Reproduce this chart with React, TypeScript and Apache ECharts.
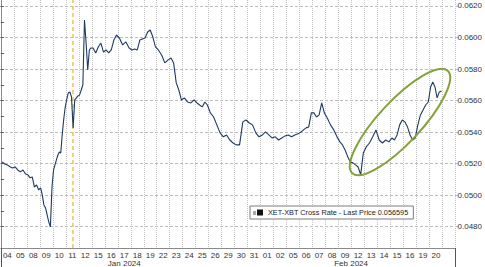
import React, { useEffect, useRef } from 'react';
import * as echarts from 'echarts';

// Trading days shown on the x axis (MM-DD, 2024)
const tradingDays = [
  '01-04', '01-05', '01-08', '01-09', '01-10', '01-11', '01-12', '01-15', '01-16', '01-17',
  '01-18', '01-19', '01-22', '01-23', '01-24', '01-25', '01-26', '01-29', '01-30', '01-31',
  '02-01', '02-02', '02-05', '02-06', '02-07', '02-08', '02-09', '02-12', '02-13', '02-14',
  '02-15', '02-16', '02-19', '02-20',
];
const axisDays = [...tradingDays, '02-21'];

// Intraday samples of the XET-XBT cross rate, one array per trading day
const jan04 = [0.05211, 0.05198, 0.05192, 0.0518, 0.05173];
const jan05 = [0.05179, 0.0516, 0.05148, 0.0516, 0.05135];
const jan08 = [0.05129, 0.0511, 0.05116, 0.05052, 0.05065, 0.05033];
const jan09 = [0.05046, 0.05002, 0.04938, 0.04919, 0.04875, 0.04831, 0.04799, 0.05052];
const jan10 = [0.0516, 0.05192, 0.05224, 0.05255, 0.05274, 0.05268, 0.05382, 0.05477, 0.05553];
const jan11 = [0.05604, 0.05648, 0.05655, 0.05623, 0.05427, 0.05604, 0.05617, 0.0563];
const jan12 = [0.05636, 0.05667, 0.05699, 0.06111, 0.05965, 0.05794, 0.05921, 0.05934];
const jan15 = [0.05934, 0.05902, 0.0594, 0.05965, 0.05908];
const jan16 = [0.05921, 0.05902, 0.05921, 0.05984, 0.06016];
const jan17 = [0.05997, 0.05953, 0.05972, 0.05934];
const jan18 = [0.05921, 0.05927, 0.05921, 0.05984, 0.05991];
const jan19 = [0.05997, 0.06035, 0.06048, 0.06003, 0.0594];
const jan22 = [0.05921, 0.05889, 0.05839, 0.05858];
const jan23 = [0.0587, 0.05839, 0.05712, 0.05667, 0.05604];
const jan24 = [0.05617, 0.05591, 0.05585, 0.05604];
const jan25 = [0.05585, 0.05572, 0.0556, 0.05591, 0.05572];
const jan26 = [0.05522, 0.05496, 0.05446, 0.05395];
const jan29 = [0.0537, 0.05382, 0.0535, 0.05331];
const jan30 = [0.05319, 0.05319, 0.05465, 0.05477];
const jan31 = [0.05458, 0.05446, 0.05395, 0.0537];
const feb01 = [0.05382, 0.05401, 0.05382, 0.05363];
const feb02 = [0.0537, 0.0535, 0.05363, 0.05376];
const feb05 = [0.05382, 0.0537, 0.05382, 0.05389];
const feb06 = [0.05401, 0.05414, 0.05427, 0.05433, 0.05522];
const feb07 = [0.05522, 0.05496, 0.05509, 0.05585, 0.05522];
const feb08 = [0.0549, 0.05446, 0.05414, 0.0537];
const feb09 = [0.05338, 0.05319, 0.05287, 0.05243, 0.05211];
const feb12 = [0.05205, 0.05192, 0.05179, 0.05129, 0.05268];
const feb13 = [0.05306, 0.05331, 0.0537, 0.05414];
const feb14 = [0.0535, 0.05331, 0.0535, 0.05338];
const feb15 = [0.05363, 0.0535, 0.05382, 0.05446, 0.05477];
const feb16 = [0.05465, 0.05433, 0.05382, 0.0535, 0.05363];
const feb19 = [0.05446, 0.05509, 0.05541, 0.05572, 0.05591];
const feb20 = [0.05686, 0.05718, 0.05686, 0.05617, 0.05655, 0.0566];

const intraday = [
  jan04, jan05, jan08, jan09, jan10, jan11, jan12, jan15, jan16, jan17,
  jan18, jan19, jan22, jan23, jan24, jan25, jan26, jan29, jan30, jan31,
  feb01, feb02, feb05, feb06, feb07, feb08, feb09, feb12, feb13, feb14,
  feb15, feb16, feb19, feb20,
];

const yLabelValues = [0.048, 0.05, 0.052, 0.054, 0.056, 0.058, 0.06, 0.062];
const yMinorValues = [0.049, 0.051, 0.053, 0.055, 0.057, 0.059, 0.061];
const yStep = 0.002;
const yMin = 0.04665;
const yMax = 0.06238;
const lastPrice = 0.056595;
const eventDay = '01-11';
const seriesName = 'XET-XBT Cross Rate - Last Price 0.056595';
const monthLabels = ['Jan 2024', 'Feb 2024'];

const FONT = 'Liberation Sans, Arial, sans-serif';
const H = 267;
const GRID_BOTTOM = 19;

export default function App() {
  const ref = useRef<HTMLDivElement>(null);

  useEffect(() => {
    document.body.style.margin = '0';
    if (!ref.current) return;
    const chart = echarts.init(ref.current, undefined, { renderer: 'svg' });

    const lineData: [number, number][] = [];
    intraday.forEach((vals, d) => {
      vals.forEach((v, k) => {
        lineData.push([d + (k + 0.5) / vals.length, v]);
      });
    });

    const eventIndex = axisDays.indexOf(eventDay);
    const firstFeb = axisDays.findIndex((d) => d.startsWith('02'));
    const janMid = Math.floor((firstFeb - 1) / 2);
    const febMid = Math.floor((firstFeb + tradingDays.length - 1) / 2);

    // helper grid for crisp horizontal gridlines: same scale, extended down to a multiple of the step
    const gridMin = Math.floor(yMin / yStep) * yStep;
    const plotH = H - GRID_BOTTOM;
    const helperH = (plotH * (yMax - gridMin)) / (yMax - yMin);
    const helperBottom = H - helperH;

    chart.setOption({
      animation: false,
      grid: [
        { left: -3.6, right: 26.9, top: 0, bottom: GRID_BOTTOM, containLabel: false },
        { left: -3.6, right: 26.9, top: 0, bottom: helperBottom, containLabel: false },
      ],
      legend: {
        left: 250,
        top: 206,
        selectedMode: false,
        data: [{ name: seriesName, icon: 'rect', itemStyle: { color: '#111' } }],
        itemWidth: 6,
        itemHeight: 6,
        backgroundColor: '#fff',
        borderColor: '#7d7d7d',
        borderWidth: 1,
        padding: [3, 5, 3, 7],
        textStyle: { fontSize: 7.3, color: '#222', fontFamily: FONT },
      },
      xAxis: [
        {
          type: 'category',
          gridIndex: 0,
          data: axisDays,
          position: 'bottom',
          boundaryGap: true,
          axisLine: { show: true, lineStyle: { color: '#8a8a8a', width: 1 } },
          axisTick: { show: false },
          axisLabel: {
            interval: 0,
            fontSize: 8,
            color: '#333',
            margin: 3,
            fontFamily: FONT,
            formatter: (v: string) => (tradingDays.includes(v) ? v.slice(3) : ''),
          },
          splitLine: { show: true, interval: 0, lineStyle: { type: 'dotted', color: '#c4c4c4', width: 1 } },
        },
        {
          type: 'value',
          gridIndex: 0,
          position: 'top',
          min: 0,
          max: axisDays.length,
          show: false,
        },
        {
          type: 'category',
          gridIndex: 0,
          data: axisDays,
          position: 'bottom',
          boundaryGap: true,
          axisLine: { show: false },
          axisTick: {
            show: true,
            interval: (i: number) => i === firstFeb,
            length: 19,
            lineStyle: { color: '#555', width: 1 },
          },
          axisLabel: {
            interval: (i: number) => i === janMid || i === febMid,
            margin: 11,
            fontSize: 8,
            color: '#333',
            fontFamily: FONT,
            formatter: (_v: string, i: number) =>
              i === janMid ? monthLabels[0] : i === febMid ? '{f|' + monthLabels[1] + '}' : '',
            rich: { f: { padding: [0, 0, 0, 12], fontSize: 8, color: '#333', fontFamily: FONT } },
          },
          splitLine: { show: false },
        },
        {
          type: 'value',
          gridIndex: 1,
          min: 0,
          max: axisDays.length,
          show: false,
        },
      ],
      yAxis: [
        {
          type: 'value',
          gridIndex: 0,
          position: 'right',
          min: yMin,
          max: yMax,
          axisLine: { show: true, lineStyle: { color: '#8a8a8a', width: 1 } },
          axisTick: {
            show: true,
            customValues: [...yLabelValues, ...yMinorValues],
            length: 3,
            lineStyle: { color: '#555' },
          },
          axisLabel: {
            customValues: yLabelValues,
            formatter: (v: number) => v.toFixed(4),
            fontSize: 8,
            color: '#333',
            margin: 2,
            fontFamily: FONT,
          },
          splitLine: { show: false },
        },
        {
          type: 'value',
          gridIndex: 1,
          position: 'right',
          min: gridMin,
          max: yMax,
          interval: yStep,
          axisLine: { show: false },
          axisTick: { show: false },
          axisLabel: { show: false },
          splitLine: {
            show: true,
            showMinLine: false,
            showMaxLine: false,
            lineStyle: { type: [3, 2], color: '#bdbdbd', width: 1 },
          },
        },
      ],
      series: [
        {
          name: seriesName,
          type: 'line',
          xAxisIndex: 1,
          yAxisIndex: 0,
          data: lineData,
          showSymbol: false,
          symbol: 'none',
          z: 3,
          lineStyle: { color: '#1e3a64', width: 1.1 },
          itemStyle: { color: '#111' },
          markLine: {
            silent: true,
            symbol: ['none', 'none'],
            z: 2,
            animation: false,
            data: [
              {
                xAxis: eventIndex + 0.5,
                lineStyle: { type: [4, 3], color: '#f2c654', width: 1.6 },
                label: { show: false },
              },
              {
                yAxis: lastPrice,
                lineStyle: { opacity: 0, width: 0 },
                label: {
                  show: true,
                  position: 'end',
                  distance: 2,
                  formatter: String(lastPrice),
                  backgroundColor: '#111',
                  color: '#fff',
                  padding: [1, 2, 1, 3],
                  borderRadius: 3,
                  fontSize: 8,
                  fontFamily: FONT,
                },
              },
            ],
          },
        },
      ],
      graphic: [
        {
          type: 'ellipse',
          shape: { cx: 0, cy: 0, rx: 70, ry: 21 },
          x: 400,
          y: 122,
          rotation: (47 * Math.PI) / 180,
          silent: true,
          z: 10,
          style: { fill: 'none', stroke: '#84a13a', lineWidth: 2 },
        },
        {
          type: 'rect',
          shape: { x: 253, y: 211, width: 3, height: 4 },
          z: 20,
          style: { fill: '#a8a8a8' },
        },
      ],
    });

    return () => chart.dispose();
  }, []);

  return (
    <div
      ref={ref}
      style={{ position: 'fixed', left: 0, top: 0, width: 485, height: 267, background: '#fff' }}
    />
  );
}
